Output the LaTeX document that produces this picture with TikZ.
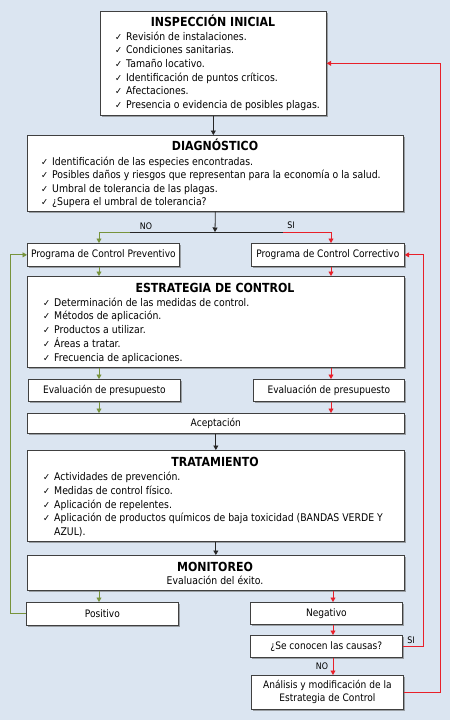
\documentclass[tikz,border=0pt]{standalone}
\usepackage{fontspec}
\setmainfont{DejaVu Sans}[FakeStretch=0.88]
\usetikzlibrary{arrows.meta,shadows}
\definecolor{bg}{HTML}{DBE5F1}
\definecolor{gr}{HTML}{77933C}
\definecolor{rd}{HTML}{E8202A}
\newcommand\ck{\makebox[11pt][l]{\scalebox{0.9}{✓}}}
\begin{document}
\begin{tikzpicture}[x=1pt,y=-1pt,
  box/.style={draw=black!75, fill=white, line width=0.7pt, anchor=north west, inner sep=0pt,
    drop shadow={shadow xshift=1.6pt, shadow yshift=-1.6pt, fill=black!60, opacity=0.55},
    font=\fontsize{10.3}{13}\selectfont, align=center},
  hdr/.style={font=\fontsize{12.5}{14}\selectfont\bfseries, anchor=base, inner sep=0pt},
  it/.style={font=\fontsize{10.6}{12}\selectfont, anchor=base west, inner sep=0pt},
  arr/.style={-{Triangle[length=4.5pt,width=5pt]}, line width=0.8pt, draw=black!85},
  garr/.style={arr, draw=gr},
  rarr/.style={arr, draw=rd},
  lbl/.style={font=\fontsize{9}{10}\selectfont, inner sep=0pt}]
\useasboundingbox (0,0) rectangle (450,720);
\fill[bg] (0,0) rectangle (450,720);

% boxes
\node[box, minimum width=226pt, minimum height=104pt] (insp) at (100,11) {};
\node[box, minimum width=376pt, minimum height=76pt] (diag) at (27,135) {};
\node[box, minimum width=152pt, minimum height=23pt] (prev) at (27,243) {Programa de Control Preventivo};
\node[box, minimum width=153pt, minimum height=23pt] (corr) at (251,243) {Programa de Control Correctivo};
\node[box, minimum width=377pt, minimum height=91pt] (estr) at (27,276) {};
\node[box, minimum width=152pt, minimum height=22pt] (evp) at (28,379) {Evaluación de presupuesto};
\node[box, minimum width=151pt, minimum height=22pt] (evc) at (253,379) {Evaluación de presupuesto};
\node[box, minimum width=377pt, minimum height=20pt] (acep) at (27,413) {Aceptación};
\node[box, minimum width=377pt, minimum height=91pt] (trat) at (27,450) {};
\node[box, minimum width=377pt, minimum height=35pt] (moni) at (27,555) {};
\node[box, minimum width=152pt, minimum height=23pt] (pos) at (26,602) {Positivo};
\node[box, minimum width=152pt, minimum height=22pt] (neg) at (250,602) {Negativo};
\node[box, minimum width=152pt, minimum height=22pt] (causas) at (250,635) {¿Se conocen las causas?};
\node[box, minimum width=152pt, minimum height=34pt] (anal) at (251,675) {Análisis y modificación de la\\Estrategia de Control};

% texts
\node[hdr] (insp-h) at (213,27) {INSPECCIÓN INICIAL};
\foreach \t [count=\i] in {{Revisión de instalaciones.},{Condiciones sanitarias.},{Tamaño locativo.},{Identificación de puntos críticos.},{Afectaciones.},{Presencia o evidencia de posibles plagas.}}
  \node[it] (insp-\i) at (115,{40+13.7*(\i-1)}) {\ck\t};

\node[hdr] (diag-h) at (215,150.5) {DIAGNÓSTICO};
\foreach \t [count=\i] in {{Identificación de las especies encontradas.},{Posibles daños y riesgos que representan para la economía o la salud.},{Umbral de tolerancia de las plagas.},{¿Supera el umbral de tolerancia?}}
  \node[it] (diag-\i) at (41,{165+13.5*(\i-1)}) {\ck\t};

\node[hdr] (estr-h) at (215,292.5) {ESTRATEGIA DE CONTROL};
\foreach \t [count=\i] in {{Determinación de las medidas de control.},{Métodos de aplicación.},{Productos a utilizar.},{Áreas a tratar.},{Frecuencia de aplicaciones.}}
  \node[it] (estr-\i) at (43,{306+13.8*(\i-1)}) {\ck\t};

\node[hdr] (trat-h) at (215,466.5) {TRATAMIENTO};
\foreach \t [count=\i] in {{Actividades de prevención.},{Medidas de control físico.},{Aplicación de repelentes.},{Aplicación de productos químicos de baja toxicidad (BANDAS VERDE Y}}
  \node[it] (trat-\i) at (43,{480.5+13.8*(\i-1)}) {\ck\t};
\node[it] (trat-5) at (54,535.5) {AZUL).};

\node[hdr] (moni-h) at (215,571) {MONITOREO};
\node[it, anchor=base] (moni-1) at (215,584.5) {Evaluación del éxito.};

% connectors
\coordinate (split) at (215,232);
\coordinate (gs) at (130,232);
\coordinate (rs) at (283,232);
\coordinate (gx) at (99,0);
\coordinate (rx) at (331,0);
\coordinate (rx2) at (333,0);
\coordinate (l1) at (423,0);
\coordinate (l2) at (440,0);
\coordinate (l3) at (10,0);

\draw[arr] (insp.south) -- (insp.south |- diag.north);
\draw[arr] (diag.south) -- (split);
\draw[line width=0.8pt, black!85] (gs) -- (rs);
\draw[garr] (gs) -| (prev.north -| gx);
\draw[rarr] (rs) -| (corr.north -| rx);
\node[lbl] (no1) at (146,226) {NO};
\node[lbl] (si1) at (291,225) {SI};

\draw[garr] (prev.south -| gx) -- (estr.north -| gx);
\draw[rarr] (corr.south -| rx) -- (estr.north -| rx);
\draw[garr] (estr.south -| gx) -- (evp.north -| gx);
\draw[rarr] (estr.south -| rx) -- (evc.north -| rx);
\draw[garr] (evp.south -| gx) -- (acep.north -| gx);
\draw[rarr] (evc.south -| rx) -- (acep.north -| rx);
\draw[arr] (acep.south) -- (trat.north);
\draw[arr] (trat.south) -- (moni.north);
\draw[garr] (moni.south -| gx) -- (pos.north -| gx);
\draw[rarr] (moni.south -| rx2) -- (neg.north -| rx2);
\draw[rarr] (neg.south -| rx2) -- (causas.north -| rx2);
\draw[rarr] (causas.south -| rx2) -- (anal.north -| rx2);
\node[lbl] (no2) at (322,666) {NO};

\draw[rarr] (causas.east) -- (causas.east -| l1) -- (corr.east -| l1) -- (corr.east);
\node[lbl] (si2) at (411,640) {SI};
\draw[rarr] (anal.east) -- (anal.east -| l2) -- (insp.east -| l2) -- (insp.east);
\draw[garr] (pos.west) -- (pos.west -| l3) -- (prev.west -| l3) -- (prev.west);
\end{tikzpicture}
\end{document}
